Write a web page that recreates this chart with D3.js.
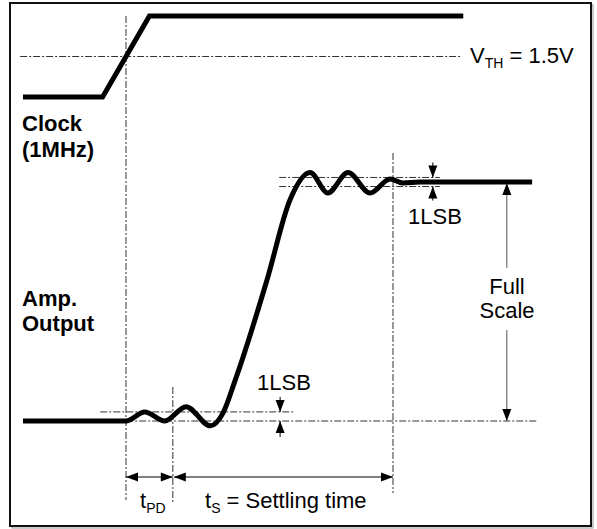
<!DOCTYPE html>
<html>
<head>
<meta charset="utf-8">
<script src="https://cdn.jsdelivr.net/npm/d3@7"></script>
<style>
  body { margin: 0; background: #fff; }
  text { font-family: "Liberation Sans", Arial, sans-serif; fill: #000; }
</style>
</head>
<body>
<svg id="chart" width="597" height="529"></svg>
<script>
// time is in arbitrary units: 0 = clock crosses V_TH, tPD = end of delay, tS = settled
var tPD = 10, tS = 57;
var LSB = 0.038;            // one LSB as a fraction of full scale
var vth = 0.5;              // clock threshold, fraction of clock swing

var clockT = [-22, -5, 5, 72];
var clockV = [0, 0, 1, 1];

var ampT = [-22, 0, 4, 8.3, 12.8, 18, 20.7, 23.3, 30.1, 35, 39.3, 43.1, 47.4, 52.1, 56.4, 59.1, 62.8, 86.7];
var ampV = [0, 0, 0.038, 0, 0.06, -0.02, 0.033, 0.17, 0.59, 0.925, 1.04, 0.954, 1.04, 0.954, 1.013, 0.996, 1, 1];

var svg = d3.select("#chart");

var x = d3.scaleLinear().domain([0, tS]).range([126, 393]);
var yClk = d3.scaleLinear().domain([0, 1]).range([97, 16]);
var yAmp = d3.scaleLinear().domain([0, 1]).range([421, 182]);

// frame
svg.append("rect")
  .attr("x", 12).attr("y", 5).attr("width", 581).attr("height", 523)
  .attr("fill", "none").attr("stroke", "#999").attr("stroke-width", 1);
svg.append("rect")
  .attr("x", 10).attr("y", 3).attr("width", 581).attr("height", 523)
  .attr("fill", "#fff").attr("stroke", "#111").attr("stroke-width", 2);

// dash-dot guide lines
var guides = svg.append("g")
  .attr("stroke", "#333").attr("stroke-width", 1)
  .attr("stroke-dasharray", "7,2,2,2").attr("fill", "none");

function hguide(t0, t1, y) {
  guides.append("line").attr("x1", x(t0)).attr("x2", x(t1)).attr("y1", y).attr("y2", y);
}
function vguide(t, y0, y1) {
  guides.append("line").attr("x1", x(t)).attr("x2", x(t)).attr("y1", y0).attr("y2", y1);
}

hguide(-22.6, 71.5, yClk(vth));
vguide(0, 16, 500);
vguide(tPD, 387, 502);
vguide(tS, 153, 493);
hguide(-5.5, 88, yAmp(0));
hguide(-5.5, 35.7, yAmp(LSB));
hguide(32.7, 67, yAmp(1 + LSB / 2));
hguide(32.7, 67, yAmp(1 - LSB / 2));

// signals
var clockLine = d3.line()
  .x(function(d, i) { return x(clockT[i]); })
  .y(function(d) { return yClk(d); });

svg.append("path")
  .datum(clockV)
  .attr("d", clockLine)
  .attr("fill", "none").attr("stroke", "#000").attr("stroke-width", 5)
  .attr("stroke-linejoin", "miter");

var ampLine = d3.line()
  .x(function(d, i) { return x(ampT[i]); })
  .y(function(d) { return yAmp(d); })
  .curve(d3.curveMonotoneX);

svg.append("path")
  .datum(ampV)
  .attr("d", ampLine)
  .attr("fill", "none").attr("stroke", "#000").attr("stroke-width", 5)
  .attr("stroke-linejoin", "round");

// arrows
var HL = 12, HW = 4.5;
function head(px, py, dir) {
  var p;
  if (dir == "left")  p = [[px, py], [px + HL, py - HW], [px + HL, py + HW]];
  if (dir == "right") p = [[px, py], [px - HL, py - HW], [px - HL, py + HW]];
  if (dir == "up")    p = [[px, py], [px - HW, py + HL], [px + HW, py + HL]];
  if (dir == "down")  p = [[px, py], [px - HW, py - HL], [px + HW, py - HL]];
  svg.append("path").attr("d", "M" + p.join("L") + "Z").attr("fill", "#000");
}
function seg(x1, y1, x2, y2, c) {
  svg.append("line").attr("x1", x1).attr("y1", y1).attr("x2", x2).attr("y2", y2)
    .attr("stroke", c || "#000").attr("stroke-width", 1);
}

var yArr = 477;
seg(x(0), yArr, x(tPD), yArr);
head(x(0), yArr, "left");
head(x(tPD), yArr, "right");
seg(x(tPD) + 1, yArr, x(tS), yArr);
head(x(tPD) + 1, yArr, "left");
head(x(tS), yArr, "right");

// 1LSB near start level
var xl = x(32.9);
seg(xl, yAmp(LSB) - 15, xl, yAmp(LSB));
head(xl, yAmp(LSB), "down");
seg(xl, yAmp(0), xl, yAmp(0) + 16);
head(xl, yAmp(0), "up");

// 1LSB near final level
var xu = x(65.5);
seg(xu, yAmp(1 + LSB / 2) - 15, xu, yAmp(1 + LSB / 2));
head(xu, yAmp(1 + LSB / 2), "down");
seg(xu, yAmp(1 - LSB / 2), xu, yAmp(1 - LSB / 2) + 14);
head(xu, yAmp(1 - LSB / 2), "up");

// full scale
var xf = x(81.3);
seg(xf, yAmp(1) + 2, xf, 268, "#555");
head(xf, yAmp(1) + 1, "up");
seg(xf, 330, xf, yAmp(0), "#555");
head(xf, yAmp(0), "down");

// labels
var FS = 22, SUB = 14;
function label(tx, ty, str, opt) {
  opt = opt || {};
  return svg.append("text").attr("x", tx).attr("y", ty)
    .attr("font-size", opt.size || FS)
    .attr("font-weight", opt.bold ? "bold" : "normal")
    .attr("text-anchor", opt.anchor || "start")
    .text(str);
}
function subLabel(tx, ty, main, sub, rest) {
  var t = svg.append("text").attr("x", tx).attr("y", ty).attr("font-size", FS);
  t.append("tspan").text(main);
  t.append("tspan").attr("font-size", SUB).attr("dy", 5).text(sub);
  if (rest) t.append("tspan").attr("dy", -5).text(rest);
  return t;
}

label(22, 131, "Clock", { bold: true });
label(22, 157, "(1MHz)", { bold: true });
label(22, 306, "Amp.", { bold: true });
label(22, 331, "Output", { bold: true });

subLabel(470, 63, "V", "TH", " = 1.5V");
label(408, 224, "1LSB");
label(257, 390, "1LSB");
label(507, 294, "Full", { anchor: "middle" });
label(507, 318, "Scale", { anchor: "middle" });
subLabel(140, 508, "t", "PD");
subLabel(205, 508, "t", "S", " = Settling time");
</script>
</body>
</html>
